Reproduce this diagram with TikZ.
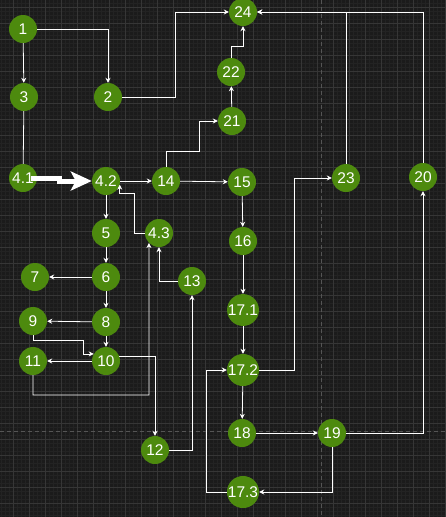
\documentclass[tikz,border=0pt]{standalone}
\usepackage{fontspec}
\setmainfont{Liberation Sans}
\usetikzlibrary{arrows.meta, calc}
\definecolor{canvasbg}{HTML}{1B1B1B}
\definecolor{gridmajor}{HTML}{363636}
\definecolor{gridminor}{HTML}{232323}
\definecolor{pagebreak}{HTML}{555555}
\definecolor{leafgreen}{HTML}{4D8A0E}
\tikzset{
  ball/.style={
    circle, fill=leafgreen, minimum size=28pt, inner sep=0pt,
    text=white, font=\fontsize{15.5}{16}\selectfont
  },
  link/.style={-{Stealth[length=5pt,width=5pt]}, draw=white, line width=0.8pt},
  plainlink/.style={draw=white, line width=0.8pt},
  fatlink/.style={draw=white, line width=5pt,
    -{Stealth[length=21pt,width=19pt,inset=5pt]}},
  majorline/.style={draw=gridmajor, line width=0.8pt},
  minorline/.style={draw=gridminor, line width=0.5pt},
  breakline/.style={draw=pagebreak, line width=0.8pt, dash pattern=on 4pt off 3pt}
}
\begin{document}
\begin{tikzpicture}[x=1pt, y=-1pt]
  % canvas and grid
  \fill[canvasbg] (0,0) rectangle (446,517);
  \useasboundingbox (0,0) rectangle (446,517);
  \foreach \gx in {1.3,5.3,...,446}{\draw[minorline] (\gx,0) -- (\gx,517);}
  \foreach \gy in {3.5,7.5,...,517}{\draw[minorline] (0,\gy) -- (446,\gy);}
  \foreach \gx in {13.3,29.3,...,446}{\draw[majorline] (\gx,0) -- (\gx,517);}
  \foreach \gy in {7.5,23.5,...,517}{\draw[majorline] (0,\gy) -- (446,\gy);}
  \draw[breakline] (321,0) -- (321,517);
  \draw[breakline] (0,431) -- (446,431);

  % steps
  \node[ball] (n1) at (23,29) {1};
  \node[ball] (n2) at (108,97) {2};
  \node[ball] (n3) at (24,97) {3};
  \node[ball] (n41) at (23,178) {4.1};
  \node[ball] (n42) at (106,181) {4.2};
  \node[ball] (n43) at (159,233) {4.3};
  \node[ball] (n5) at (106,233) {5};
  \node[ball] (n6) at (106,277) {6};
  \node[ball] (n7) at (35,277) {7};
  \node[ball] (n8) at (106,322) {8};
  \node[ball] (n9) at (33,321) {9};
  \node[ball] (n10) at (106,361) {10};
  \node[ball] (n11) at (33,361) {11};
  \node[ball] (n12) at (155,450) {12};
  \node[ball] (n13) at (192,281) {13};
  \node[ball] (n14) at (166,181) {14};
  \node[ball] (n15) at (242,182) {15};
  \node[ball] (n16) at (243,241) {16};
  \node[ball] (n171) at (243,310) {17.1};
  \node[ball] (n172) at (243,370) {17.2};
  \node[ball] (n173) at (243,492) {17.3};
  \node[ball] (n18) at (242,433) {18};
  \node[ball] (n19) at (332,433) {19};
  \node[ball] (n20) at (423,177) {20};
  \node[ball] (n21) at (232,121) {21};
  \node[ball] (n22) at (231,72) {22};
  \node[ball] (n23) at (346,178) {23};
  \node[ball] (n24) at (243,12) {24};

  % straight links
  \foreach \a/\b in {n1/n3, n42/n14, n42/n5, n5/n6, n6/n7, n6/n8, n8/n9,
                     n8/n10, n10/n11, n14/n15, n21/n22, n15/n16,
                     n16/n171, n171/n172, n172/n18, n18/n19}{%
    \draw[link] (\a) -- (\b);}
  \draw[plainlink] (n3) -- (n41);

  % routed links
  \draw[link] (n1) -| (n2);
  \draw[link] (n2.east) -- ++(53,0) |- (n24);
  \draw[fatlink] ([xshift=8pt]n41.center) -- ++(28,0) |- (n42.west);
  \draw[link] (n43.west) -| (134,193) -| (n42.-15);
  \draw[link] (n9) |- (83,340) |- (n10.150);
  \draw[link] (n11) |- (149,395) -- (n43.-135);
  \draw[link] (n10.20) -| (n12);
  \draw[link] (n12) -| (n13);
  \draw[link] (n13) -| (n43);
  \draw[link] (n14) |- (199,151) |- (n21);
  \draw[link] (n22) |- (243,46) -- (n24);
  \draw[link] (n23) |- (n24);
  \draw[link] (n20) |- (n24);
  \draw[link] (n172) -| (294,178) -- (n23);
  \draw[link] (n19) -| (n20);
  \draw[link] (n19) |- (n173);
  \draw[link] (n173.west) -- ++(-20,0) |- (n172);
\end{tikzpicture}
\end{document}
